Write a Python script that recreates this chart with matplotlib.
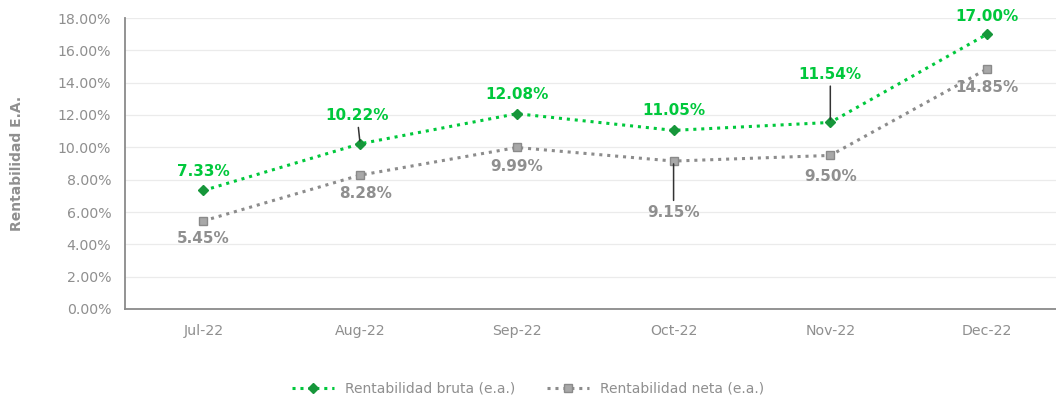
import matplotlib.pyplot as plt
from matplotlib.ticker import PercentFormatter

meses = ["Jul-22", "Aug-22", "Sep-22", "Oct-22", "Nov-22", "Dec-22"]
bruta = [7.33, 10.22, 12.08, 11.05, 11.54, 17.00]
neta = [5.45, 8.28, 9.99, 9.15, 9.50, 14.85]

verde = "#00c83c"
verde_osc = "#16963a"
gris = "#8c8c8c"
gris_txt = "#8f8f8f"

# desplazamiento de cada etiqueta (px) y si lleva linea guia
off_bruta = [(0, 19), (-3, 28), (0, 19), (0, 20), (0, 48), (0, 18)]
off_neta = [(0, -18), (5, -18), (0, -19), (0, -51), (0, -21), (0, -19)]
guia_bruta = [False, True, False, False, True, False]
guia_neta = [False, False, False, True, False, False]

fig = plt.figure(figsize=(10.56, 4.0), dpi=100)
ax = fig.add_axes([0.1184, 0.2275, 0.8816, 0.7275])

x = list(range(len(meses)))
ax.plot(x, bruta, color=verde, lw=2.2, ls=(0, (1, 1.6)), marker="D", ms=5.5,
        mfc=verde_osc, mec=verde_osc, label="Rentabilidad bruta (e.a.)", zorder=3)
ax.plot(x, neta, color=gris, lw=2.2, ls=(0, (1, 1.6)), marker="s", ms=6,
        mfc="#a8a8a8", mec="#8a8a8a", label="Rentabilidad neta (e.a.)", zorder=3)


def etiquetas(valores, offs, guias, color):
    for i, v in enumerate(valores):
        dx, dy = offs[i]
        props = None
        if guias[i]:
            props = dict(arrowstyle="-", color="#333333", lw=1.1,
                         shrinkA=1, shrinkB=2)
        ax.annotate(f"{v:.2f}%", xy=(i, v), xytext=(dx, dy),
                    textcoords="offset pixels", ha="center", va="center",
                    fontsize=11, fontweight="bold", color=color,
                    arrowprops=props, zorder=4)


etiquetas(bruta, off_bruta, guia_bruta, verde)
etiquetas(neta, off_neta, guia_neta, gris_txt)

ax.set_xlim(-0.5, 5.44)
ax.set_ylim(0, 18)
ax.set_yticks(range(0, 19, 2))
ax.yaxis.set_major_formatter(PercentFormatter(decimals=2))
ax.set_xticks(x)
ax.set_xticklabels(meses)
ax.grid(axis="y", color="#ebebeb", lw=0.9)
ax.set_axisbelow(True)

for s in ["top", "right"]:
    ax.spines[s].set_visible(False)
for s in ["left", "bottom"]:
    ax.spines[s].set_color("#8a8a8a")
    ax.spines[s].set_linewidth(1.3)
ax.tick_params(length=0, colors=gris_txt, labelsize=10.2, pad=11)
ax.tick_params(axis="y", pad=10)

ax.set_ylabel("Rentabilidad E.A.", fontsize=10, fontweight="bold",
              color=gris_txt, labelpad=24)

fig.legend(loc="lower center", bbox_to_anchor=(0.5, -0.02), ncol=2, frameon=False,
           fontsize=10, labelcolor=gris_txt, handlelength=3.0, columnspacing=2.3)

fig.savefig("out.png", dpi=100)
